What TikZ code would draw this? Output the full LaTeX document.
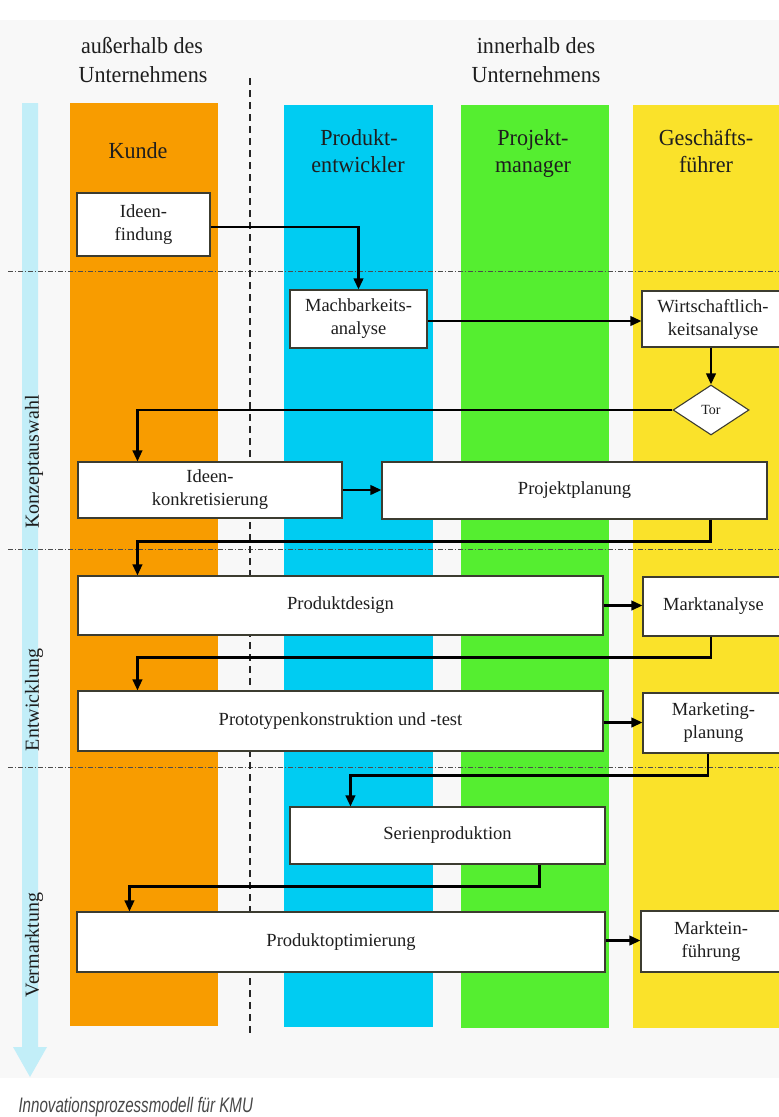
\documentclass[tikz,border=0pt]{standalone}
\usepackage{fontspec}
\setmainfont{Liberation Serif}
\newfontfamily\headfont{Liberation Serif}[FakeStretch=0.96]
\newfontfamily\capfont{Liberation Sans}[FakeStretch=0.72]
\usetikzlibrary{shapes.geometric,arrows.meta}

\definecolor{bgc}{HTML}{F8F8F8}
\definecolor{kunde}{HTML}{F89C00}
\definecolor{entw}{HTML}{00CCF2}
\definecolor{proj}{HTML}{55EE30}
\definecolor{gesch}{HTML}{FAE22A}
\definecolor{phase}{HTML}{C2EEF8}
\definecolor{boxline}{HTML}{3C3C30}
\definecolor{txt}{HTML}{1E1E1E}

\begin{document}
\begin{tikzpicture}[x=1pt,y=-1pt,
  proc/.style={draw=boxline, line width=1.1pt, fill=white, inner sep=0pt,
    font=\fontsize{18.5}{23}\selectfont, text=txt, align=center},
  gate/.style={draw=boxline, line width=1.1pt, fill=white, inner sep=0pt,
    diamond, font=\fontsize{14}{16}\selectfont, text=txt},
  arr/.style={line width=2.3pt, -{Triangle[length=11pt,width=9.5pt]}, black},
  head/.style={font=\headfont\fontsize{23}{27}\selectfont, text=txt, anchor=base, inner sep=0pt},
  sepline/.style={draw=black!70, line width=0.8pt, dash pattern=on 5pt off 2pt on 1pt off 2pt},
  border/.style={draw=black!85, line width=1.6pt, dash pattern=on 7pt off 5pt},
  phaselabel/.style={rotate=90, font=\fontsize{20}{22}\selectfont, text=txt},
  caption/.style={font=\capfont\itshape\fontsize{21}{24}\selectfont, text=black!72}
]
\clip (0,0) rectangle (779,1117);
\fill[white] (0,0) rectangle (779,1117);
\fill[bgc] (0,20) rectangle (779,1078);

% swim lanes
\fill[kunde] (70,103) rectangle (218,1026);
\fill[entw] (284,105) rectangle (433,1027);
\fill[proj] (461,105) rectangle (609,1028);
\fill[gesch] (633,105) rectangle (779,1028);

% phase arrow
\fill[phase] (22,103) -- (38,103) -- (38,1047) -- (47,1047) -- (30,1077)
  -- (13,1047) -- (22,1047) -- cycle;

% phase separators
\draw[sepline] (8,271) -- (779,271);
\draw[sepline] (8,549) -- (779,549);
\draw[sepline] (8,767) -- (779,767);

% company border
\draw[border] (250,78) -- (250,1035);

% headings
\node[head] (h1a) at (142,53) {außerhalb des};
\node[head] (h1b) at (143,82) {Unternehmens};
\node[head] (h2a) at (536,53) {innerhalb des};
\node[head] (h2b) at (536,82) {Unternehmens};

\node[head] (lk) at (138,158) {Kunde};
\node[head] (le1) at (359,145) {Produkt-};
\node[head] (le2) at (358,172) {entwickler};
\node[head] (lp1) at (533,145) {Projekt-};
\node[head] (lp2) at (533,172) {manager};
\node[head] (lg1) at (706,145) {Geschäfts-};
\node[head] (lg2) at (706,172) {führer};

% phase labels
\node[phaselabel] (p1) at (34,462) {Konzeptauswahl};
\node[phaselabel] (p2) at (34,700) {Entwicklung};
\node[phaselabel] (p3) at (34,945) {Vermarktung};

% process boxes
\node[proc, minimum width=133pt, minimum height=63pt] (ideen) at (143.5,224.5) {Ideen-\\findung};
\node[proc, minimum width=137pt, minimum height=58pt] (mach) at (358.5,319) {Machbarkeits-\\analyse};
\node[proc, minimum width=142pt, minimum height=56pt] (wirt) at (713,319) {Wirtschaftlich-\\keitsanalyse};
\node[gate, minimum width=76pt, minimum height=50pt] (tor) at (711,410) {Tor};
\node[proc, minimum width=264pt, minimum height=56pt] (konk) at (210,490) {Ideen-\\konkretisierung};
\node[proc, minimum width=385pt, minimum height=57pt] (pplan) at (574.5,490.5) {Projektplanung};
\node[proc, minimum width=525pt, minimum height=59pt] (design) at (340.5,605.5) {Produktdesign};
\node[proc, minimum width=141pt, minimum height=59pt] (markt) at (713.5,606.5) {Marktanalyse};
\node[proc, minimum width=525pt, minimum height=60pt] (proto) at (340.5,721) {Prototypenkonstruktion und -test};
\node[proc, minimum width=141pt, minimum height=60pt] (mktg) at (713.5,723) {Marketing-\\planung};
\node[proc, minimum width=315pt, minimum height=57pt] (serie) at (447.5,835.5) {Serienproduktion};
\node[proc, minimum width=528pt, minimum height=60pt] (opt) at (341,942) {Produktoptimierung};
\node[proc, minimum width=140pt, minimum height=61pt] (einf) at (711,941.5) {Marktein-\\führung};

% connectors
\draw[arr] ([yshift=-2.5pt]ideen.east) -| (mach.north);
\draw[arr] ([yshift=-2pt]mach.east) -- ([yshift=-2pt]wirt.west);
\draw[arr] (tor.north |- wirt.south) -- (tor.north);
\draw[arr] (tor.west) -| ([xshift=60pt]konk.north west);
\draw[arr] (konk.east) -- (konk.east -| pplan.west);
\draw[arr] ([xshift=-57pt]pplan.south east) -- ++(0,22) -| ([xshift=60pt]design.north west);
\draw[arr] (design.east) -- (design.east -| markt.west);
\draw[arr] ([xshift=-2.5pt]markt.south) -- ++(0,21) -| ([xshift=60pt]proto.north west);
\draw[arr] ([yshift=-1.5pt]proto.east) -- ([yshift=-1.5pt]proto.east -| mktg.west);
\draw[arr] ([xshift=-5.5pt]mktg.south) -- ++(0,22) -| ([xshift=61pt]serie.north west);
\draw[arr] ([xshift=-66pt]serie.south east) -- ++(0,22) -| ([xshift=53pt]opt.north west);
\draw[arr] ([yshift=1.5pt]opt.east) -- ([yshift=1.5pt]opt.east -| einf.west);

% caption
\node[caption, anchor=base west] (cap) at (15,1112) {Innovationsprozessmodell für KMU};
\end{tikzpicture}
\end{document}
